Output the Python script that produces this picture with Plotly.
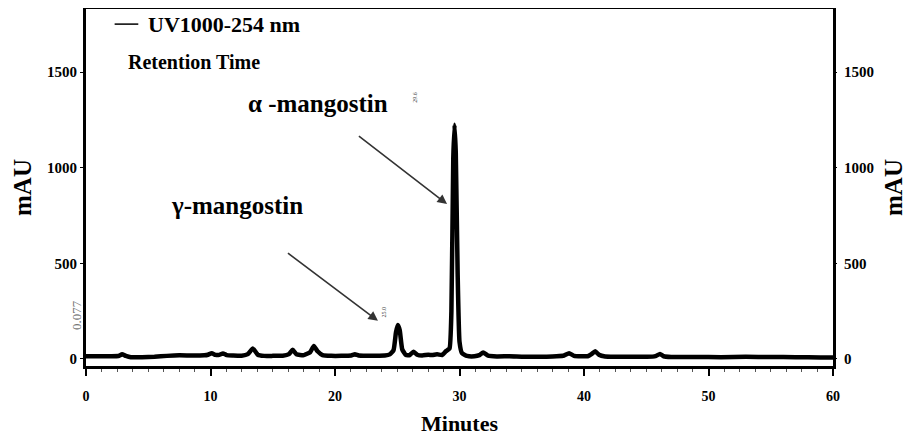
import plotly.graph_objects as go

# ---- data ----
time_min = [0, 1, 2, 2.6, 2.9, 3.2, 3.6, 4.5, 5.5, 6.5, 7.5, 8.5, 9.5, 9.8, 10.1, 10.4, 10.7,
            11.0, 11.3, 11.8, 12.5, 13.0, 13.4, 13.8, 14.3, 15.0, 15.8, 16.3, 16.6, 16.9,
            17.5, 18.0, 18.3, 18.6, 19.0, 19.7, 20.5, 21.3, 21.6, 21.9, 22.5, 23.3, 24.0,
            24.4, 24.7, 24.9, 25.05, 25.2, 25.4, 25.7, 26.0, 26.3, 26.6, 27.0, 27.5, 27.8,
            28.2, 28.6, 28.9, 29.2, 29.35, 29.5, 29.6, 29.7, 29.85, 30.0, 30.2, 30.6, 31.2,
            31.6, 31.9, 32.3, 33.0, 34.0, 35.0, 36.0, 37.0, 37.8, 38.4, 38.8, 39.2, 39.8,
            40.3, 40.6, 40.9, 41.2, 41.7, 42.5, 44.0, 45.5, 45.8, 46.1, 46.4, 47.0, 49.0,
            51.0, 53.0, 55.0, 57.0, 59.0, 60.0]
mau = [14, 14, 14, 15, 24, 16, 9, 9, 11, 16, 19, 18, 19, 22, 30, 21, 21,
       29, 20, 18, 17, 25, 55, 22, 16, 16, 17, 25, 48, 24,
       20, 35, 68, 40, 20, 16, 16, 18, 24, 18, 17, 17, 18,
       24, 45, 140, 178, 150, 50, 20, 20, 38, 22, 18, 22, 20,
       24, 20, 40, 55, 250, 1050, 1225, 1080, 450, 90, 30, 16, 14,
       20, 34, 17, 13, 14, 12, 12, 12, 14, 18, 30, 16, 14,
       14, 25, 40, 22, 13, 12, 12, 12, 16, 26, 14, 10, 10,
       9, 11, 10, 9, 8, 8]

x_ticks = [0, 10, 20, 30, 40, 50, 60]
y_ticks = [0, 500, 1000, 1500]
series_name = "UV1000-254 nm"

SERIF = "Liberation Serif"

fig = go.Figure()
fig.add_trace(go.Scatter(x=time_min, y=mau, mode="lines", name=series_name, showlegend=False,
                         line=dict(color="black", width=4.5, shape="spline", smoothing=0.4),
                         hoverinfo="skip"))
# dummy trace to show the right axis
fig.add_trace(go.Scatter(x=[None], y=[None], yaxis="y2", showlegend=False, hoverinfo="skip"))

yr = [-37, 1830]
fig.update_layout(
    width=899, height=430,
    margin=dict(l=78, r=74, t=1, b=72),
    paper_bgcolor="white", plot_bgcolor="white",
    font=dict(family=SERIF, color="black"),
    showlegend=False,
    xaxis=dict(range=[0, 60], tickvals=x_ticks, ticks="outside", ticklen=7, tickwidth=1.5,
               tickcolor="black", showline=True, linewidth=3, linecolor="black", mirror=True,
               showgrid=False, zeroline=False, automargin=False, ticklabelstandoff=8,
               tickfont=dict(family=SERIF, size=14, color="black", weight="bold"),
               minor=dict(dtick=1.25, ticks="outside", ticklen=3, tickcolor="#555", tickwidth=1)),
    yaxis=dict(range=yr, tickvals=y_ticks, ticks="outside", ticklen=3, tickwidth=1,
               tickcolor="black", showline=True, linewidth=3, linecolor="black", mirror=True,
               showgrid=False, zeroline=False, automargin=False,
               tickfont=dict(family=SERIF, size=15, color="black", weight="bold"),
               title=dict(text="mAU", font=dict(family=SERIF, size=25, color="black", weight="bold"),
                          standoff=9)),
    yaxis2=dict(range=yr, tickvals=y_ticks, overlaying="y", side="right", ticks="outside",
                ticklen=3, tickwidth=1, tickcolor="black", showgrid=False, zeroline=False,
                showline=False, automargin=False, ticklabelstandoff=4,
                tickfont=dict(family=SERIF, size=15, color="black", weight="bold"),
                title=dict(text="mAU", font=dict(family=SERIF, size=25, color="black", weight="bold"),
                           standoff=22)),
)

# x-axis title as annotation for exact placement
fig.add_annotation(x=0.5, y=-0.162, xref="paper", yref="paper", xanchor="center", yanchor="middle",
                   text="Minutes", showarrow=False,
                   font=dict(family=SERIF, size=22, color="black", weight="bold"))

# legend-like label: short line + text (data coordinates)
fig.add_shape(type="line", xref="x", yref="y", x0=2.3, x1=4.2, y0=1751, y1=1751,
              line=dict(color="black", width=1.5))
fig.add_annotation(x=4.85, y=1751, xanchor="left", text=series_name, showarrow=False,
                   font=dict(family=SERIF, size=22, color="black", weight="bold"))
fig.add_annotation(x=3.2, y=1553, xanchor="left", text="Retention Time", showarrow=False,
                   font=dict(family=SERIF, size=20, color="black", weight="bold"))

ann_font = dict(family=SERIF, size=25, color="black", weight="bold")
fig.add_annotation(x=18.6, y=1338, text="α -mangostin", showarrow=False, font=ann_font)
fig.add_annotation(x=12.1, y=800, text="γ-mangostin", showarrow=False, font=ann_font)
# arrows
fig.add_annotation(x=29.0, y=810, ax=21.8, ay=1171, axref="x", ayref="y", text="",
                   showarrow=True, arrowhead=2, arrowsize=1.2, arrowwidth=1.6, arrowcolor="#333")
fig.add_annotation(x=23.45, y=199, ax=16.1, ay=559, axref="x", ayref="y", text="",
                   showarrow=True, arrowhead=2, arrowsize=1.2, arrowwidth=1.6, arrowcolor="#333")
# tiny retention labels
fig.add_annotation(x=26.4, y=1370, text="29.6", textangle=-90, showarrow=False,
                   font=dict(family=SERIF, size=6, color="#444"))
fig.add_annotation(x=23.9, y=246, text="25.0", textangle=-90, showarrow=False,
                   font=dict(family=SERIF, size=6, color="#444"))
# side label
fig.add_annotation(x=-0.012, y=230, xref="paper", yref="y", xanchor="center", yanchor="middle",
                   text="0.077", textangle=-90,
                   showarrow=False, font=dict(family=SERIF, size=13, color="#777"))

fig.write_html("out.html")
